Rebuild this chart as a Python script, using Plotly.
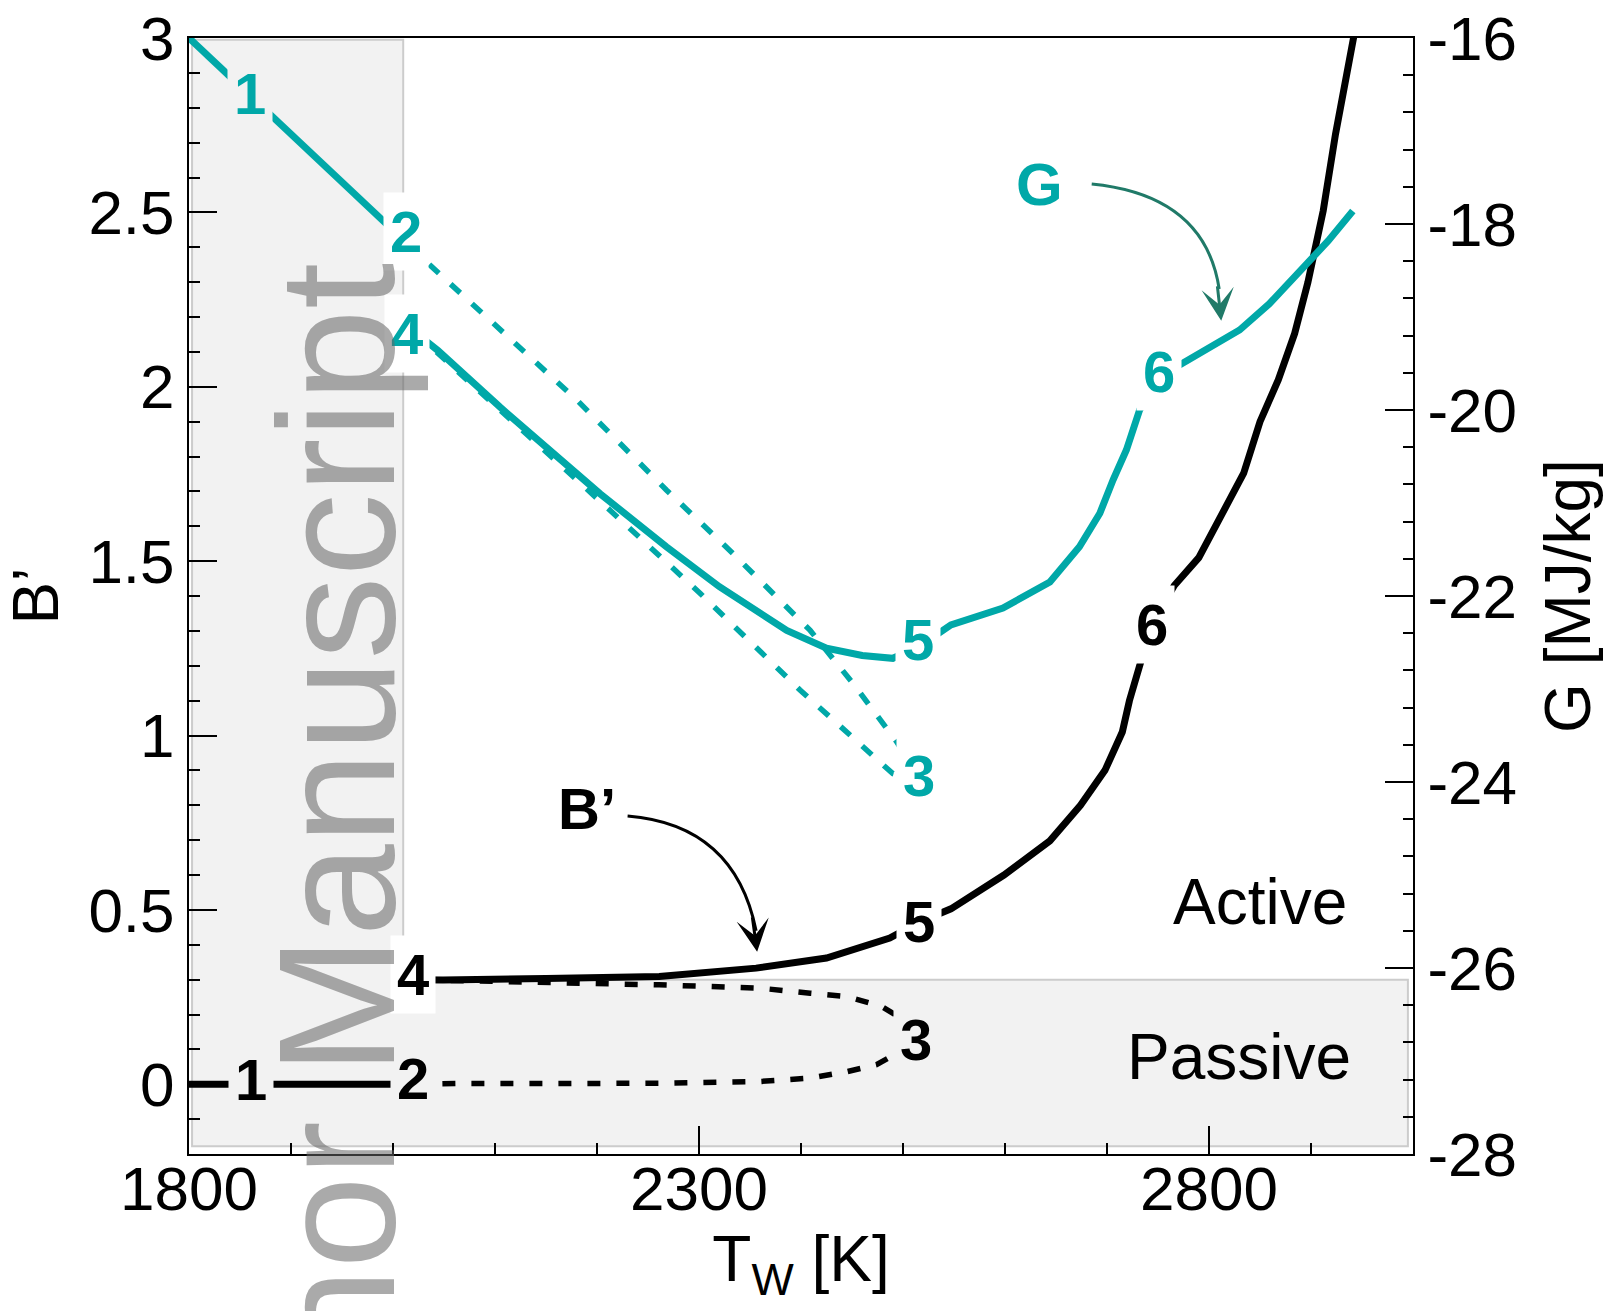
import plotly.graph_objects as go

FONT = "Liberation Sans, Arial, Helvetica, sans-serif"
TEAL = "#00a8a8"
ARROW_G = "#207a68"
BAND = "#f2f2f2"
BAND_EDGE = "#cccccc"

# ---------------- data: B' (left axis) ----------------
bp_12_T = [1800, 1900, 2020]
bp_12 = [0.0, 0.0, 0.0]

bp_23_T = [2020, 2064, 2160, 2261, 2360, 2409, 2445, 2474, 2495, 2508]
bp_23 = [0.0, 0.002, 0.002, 0.003, 0.008, 0.0175, 0.036, 0.056, 0.09, 0.135]

bp_34_T = [2508, 2498, 2479, 2445, 2409, 2360, 2261, 2150, 2049, 2020]
bp_34 = [0.135, 0.19, 0.223, 0.2515, 0.261, 0.2755, 0.285, 0.292, 0.298, 0.3]

bp_456_T = [2020, 2049, 2150, 2261, 2356, 2425, 2487, 2516, 2547, 2599, 2644,
            2674, 2698, 2715, 2722, 2732, 2744, 2766, 2790, 2834, 2850, 2868,
            2884, 2897, 2912, 2924, 2942, 2950]
bp_456 = [0.3, 0.299, 0.303, 0.309, 0.333, 0.362, 0.419, 0.465, 0.503, 0.60,
          0.698, 0.80, 0.90, 1.01, 1.10, 1.207, 1.32, 1.43, 1.51, 1.752, 1.90,
          2.02, 2.153, 2.30, 2.505, 2.724, 3.0, 3.13]

# ---------------- data: G (right axis) ----------------
g_12_T = [1800, 1830, 1885, 1982, 2015]
g_12 = [-16.0, -16.31, -16.88, -17.9, -18.22]

g_23_T = [2015, 2038, 2180, 2268, 2333, 2409, 2451, 2494, 2518]
g_23 = [-18.22, -18.46, -19.89, -20.86, -21.54, -22.37, -22.94, -23.57, -24.0]

g_34_T = [2518, 2490, 2399, 2301, 2213, 2105, 2020]
g_34 = [-24.0, -23.91, -23.01, -21.97, -21.08, -19.99, -19.15]

g_456_T = [2020, 2044, 2105, 2203, 2268, 2320, 2386, 2425, 2460, 2490, 2515,
           2547, 2598, 2644, 2673, 2693, 2706, 2719, 2732, 2750, 2780, 2830,
           2859, 2889, 2917, 2941]
g_456 = [-19.15, -19.36, -19.97, -20.90, -21.47, -21.90, -22.37, -22.56,
         -22.64, -22.67, -22.55, -22.31, -22.13, -21.85, -21.47, -21.11,
         -20.75, -20.43, -20.0, -19.65, -19.46, -19.14, -18.86, -18.52,
         -18.18, -17.86]

# point labels: (text, T, value, background)
bp_labels = [("1", 1861, 0.015, BAND), ("2", 2020, 0.017, BAND),
             ("3", 2513, 0.127, BAND), ("4", 2020, 0.314, "white"),
             ("5", 2516, 0.466, "white"), ("6", 2744, 1.317, "white")]
g_labels = [("1", 1860, -16.6, BAND), ("2", 2013, -18.08, "white"),
            ("3", 2516, -23.93, "white"), ("4", 2014, -19.18, "white"),
            ("5", 2515, -22.47, "white"), ("6", 2751, -19.59, "white")]

# axis ticks
x_ticks = [1800, 2300, 2800]
y_ticks = [0, 0.5, 1, 1.5, 2, 2.5, 3]
y_ticktext = ["0", "0.5", "1", "1.5", "2", "2.5", "3"]
y2_ticks = [-28, -26, -24, -22, -20, -18, -16]
y2_ticktext = ["-28", "-26", "-24", "-22", "-20", "-18", "-16"]

fig = go.Figure()

SOLID_W = 7
DASH_W = 5.5
DASH = "13px,16px"

fig.add_trace(go.Scatter(x=bp_12_T, y=bp_12, mode="lines",
                         line=dict(color="black", width=SOLID_W)))
fig.add_trace(go.Scatter(x=bp_23_T, y=bp_23, mode="lines",
                         line=dict(color="black", width=DASH_W, dash=DASH)))
fig.add_trace(go.Scatter(x=bp_34_T, y=bp_34, mode="lines",
                         line=dict(color="black", width=DASH_W, dash=DASH)))
fig.add_trace(go.Scatter(x=bp_456_T, y=bp_456, mode="lines",
                         line=dict(color="black", width=SOLID_W)))

fig.add_trace(go.Scatter(x=g_23_T, y=g_23, mode="lines", yaxis="y2",
                         line=dict(color=TEAL, width=DASH_W, dash=DASH)))
fig.add_trace(go.Scatter(x=g_34_T, y=g_34, mode="lines", yaxis="y2",
                         line=dict(color=TEAL, width=DASH_W, dash=DASH)))
fig.add_trace(go.Scatter(x=g_12_T, y=g_12, mode="lines", yaxis="y2",
                         line=dict(color=TEAL, width=SOLID_W)))
fig.add_trace(go.Scatter(x=g_456_T, y=g_456, mode="lines", yaxis="y2",
                         line=dict(color=TEAL, width=SOLID_W)))

# grey regions (L-shaped: low-T strip + passive strip)
fig.add_shape(type="path", xref="x", yref="y", layer="below",
              path="M 1803,-0.178 L 2995,-0.178 L 2995,0.3 L 2010,0.3 L 2010,2.995 L 1803,2.995 Z",
              fillcolor=BAND, line=dict(color=BAND_EDGE, width=2))

# curved arrows
fig.add_shape(type="path", xref="x", yref="y",
              path="M 2230,0.769 Q 2335,0.744 2356,0.44",
              line=dict(color="black", width=3))
fig.add_shape(type="path", xref="x", yref="y2",
              path="M 2685,-17.57 Q 2796,-17.69 2810,-18.7",
              line=dict(color=ARROW_G, width=3))

ann = []
for t, x, y, bg in bp_labels:
    ann.append(dict(x=x, y=y, xref="x", yref="y", text="<b>%s</b>" % t,
                    showarrow=False, bgcolor=bg, borderpad=6,
                    font=dict(size=58, color="black", family=FONT)))
for t, x, y, bg in g_labels:
    ann.append(dict(x=x, y=y, xref="x", yref="y2", text="<b>%s</b>" % t,
                    showarrow=False, bgcolor=bg, borderpad=6,
                    font=dict(size=58, color=TEAL, family=FONT)))

# arrowheads
ann.append(dict(x=2357, y=0.38, xref="x", yref="y", text="", showarrow=True,
                ax=-5, ay=-36, arrowhead=3, arrowsize=1.8, arrowwidth=3,
                arrowcolor="black", standoff=0))
ann.append(dict(x=2812, y=-19.04, xref="x", yref="y2", text="", showarrow=True,
                ax=-4, ay=-36, arrowhead=3, arrowsize=1.8, arrowwidth=3,
                arrowcolor=ARROW_G, standoff=0))

ann.append(dict(x=2190, y=0.79, xref="x", yref="y", text="<b>B’</b>",
                showarrow=False, font=dict(size=58, color="black", family=FONT)))
ann.append(dict(x=2634, y=-17.58, xref="x", yref="y2", text="<b>G</b>",
                showarrow=False, font=dict(size=60, color=TEAL, family=FONT)))
ann.append(dict(x=2850, y=0.522, xref="x", yref="y", text="Active",
                showarrow=False, font=dict(size=64, color="black", family=FONT)))
ann.append(dict(x=2829, y=0.079, xref="x", yref="y", text="Passive",
                showarrow=False, font=dict(size=64, color="black", family=FONT)))

# watermark
ann.append(dict(x=(336 - 189) / 1224, y=(1154 - 937) / 1116, xref="paper",
                yref="paper", text="Author Manuscript", textangle=-90,
                showarrow=False, xanchor="center", yanchor="middle",
                font=dict(size=166, color="rgba(100,100,100,0.55)", family=FONT)))

fig.update_layout(
    width=1604, height=1311,
    margin=dict(l=189, r=191, t=38, b=157, autoexpand=False),
    paper_bgcolor="white", plot_bgcolor="white", showlegend=False,
    font=dict(family=FONT, size=62, color="black"),
    annotations=ann,
    xaxis=dict(range=[1800, 3000], tickmode="array", tickvals=x_ticks,
               ticks="inside", ticklen=28, tickwidth=1.5, tickcolor="black",
               showline=True, linewidth=2, linecolor="black", mirror=True,
               showgrid=False, zeroline=False, automargin=False,
               ticklabelstandoff=-20,
               minor=dict(tick0=1800, dtick=100, ticks="inside", ticklen=11,
                          tickwidth=1.5, tickcolor="black", showgrid=False),
               tickfont=dict(size=62),
               title=dict(text="T<sub>W</sub> [K]", font=dict(size=64), standoff=6)),
    yaxis=dict(range=[-0.2, 3], tickmode="array", tickvals=y_ticks,
               ticktext=y_ticktext, ticks="inside", ticklen=28, tickwidth=1.5,
               tickcolor="black", showline=True, linewidth=2, linecolor="black",
               showgrid=False, zeroline=False, automargin=False,
               minor=dict(tick0=0, dtick=0.1, ticks="inside", ticklen=11,
                          tickwidth=1.5, tickcolor="black", showgrid=False),
               tickfont=dict(size=62),
               title=dict(text="B’", font=dict(size=64), standoff=14)),
    yaxis2=dict(range=[-28, -16], overlaying="y", side="right", anchor="x",
                tickmode="array", tickvals=y2_ticks, ticktext=y2_ticktext,
                ticks="inside", ticklen=28, tickwidth=1.5, tickcolor="black",
                showline=True, linewidth=2, linecolor="black",
                showgrid=False, zeroline=False, automargin=False,
                minor=dict(tick0=-28, dtick=0.4, ticks="inside", ticklen=10,
                           tickwidth=1.5, tickcolor="black", showgrid=False),
                tickfont=dict(size=62),
                title=dict(text="G [MJ/kg]", font=dict(size=64), standoff=35)),
)

fig.write_html("out.html")
